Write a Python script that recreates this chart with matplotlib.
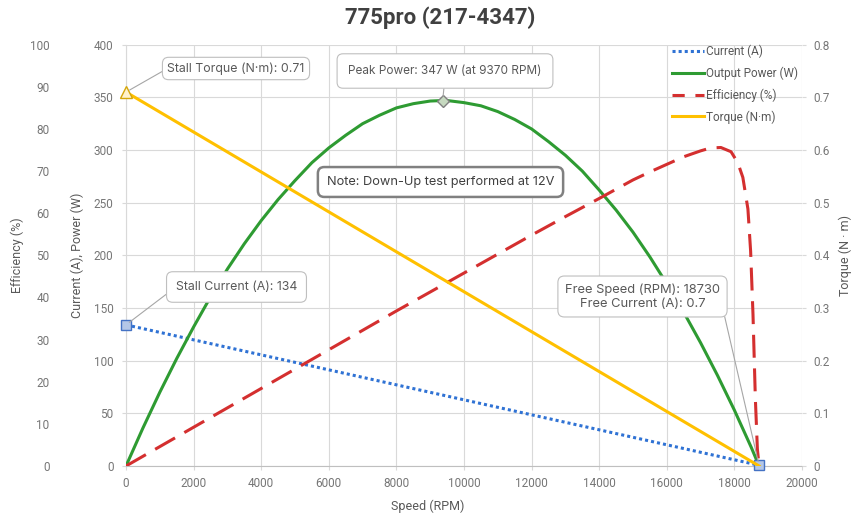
import matplotlib
matplotlib.use("Agg")
import matplotlib.pyplot as plt
from matplotlib.lines import Line2D

# ---------------- data ----------------
current_speed = [0, 18730]
current_amps = [134, 0.7]

torque_speed = [0, 18730]
torque_nm = [0.71, 0.0]

power_speed = [0, 500, 1000, 1500, 2000, 2500, 3000, 3500, 4000, 4500, 5000, 5500,
               6000, 6500, 7000, 7500, 8000, 8500, 9000, 9370, 9500, 10000, 10500,
               11000, 11500, 12000, 12500, 13000, 13500, 14000, 14500, 15000, 15500,
               16000, 16500, 17000, 17500, 18000, 18500, 18730]
power_w = [0, 36, 70, 102, 132, 160.5, 187, 211, 233, 253, 271, 288,
           302, 314, 325, 333, 340, 344, 346.5, 347, 347, 345, 342,
           336.5, 329, 320, 308, 295, 280, 262, 243, 222, 198.5,
           173, 146, 117, 86, 53, 17.6, 0]

eff_speed = [0, 1000, 2000, 3000, 4000, 5000, 6000, 7000, 8000, 9000, 10000,
             11000, 12000, 13000, 14000, 14500, 15000, 15500, 16000, 16500, 17000,
             17300, 17600, 17900, 18100, 18250, 18400, 18480, 18550, 18620, 18680, 18730]
eff_pct = [0, 4.6, 9.2, 13.8, 18.4, 23.0, 27.6, 32.2, 36.8, 41.3, 45.8,
           50.3, 54.8, 59.2, 63.5, 65.7, 67.9, 69.8, 71.6, 73.4, 74.8,
           75.5, 75.6, 74.6, 72.0, 68.5, 61.0, 51.0, 36.0, 16.0, 4.0, 0.0]

x_ticks = [0, 2000, 4000, 6000, 8000, 10000, 12000, 14000, 16000, 18000, 20000]
left_ticks = [0, 50, 100, 150, 200, 250, 300, 350, 400]
eff_ticks = [0, 10, 20, 30, 40, 50, 60, 70, 80, 90, 100]
torque_ticks = [0, 0.1, 0.2, 0.3, 0.4, 0.5, 0.6, 0.7, 0.8]

stall_torque = 0.71
stall_current = 134
peak_power = 347
peak_speed = 9370
free_speed = 18730
free_current = 0.7

title = "775pro (217-4347)"
series_labels = ["Current (A)", "Output Power (W)", "Efficiency (%)", "Torque (N·m)"]

# ---------------- style ----------------
C_BLUE = "#2f72d4"
C_GREEN = "#2e9b32"
C_RED = "#d42f2f"
C_YEL = "#ffc000"
C_TXT = "#595959"
C_TICK = "#767676"
C_GRID = "#d9d9d9"
TICKFONT = "Roboto"
ANNFONT = "Inter"

plt.rcParams["font.family"] = [TICKFONT, "DejaVu Sans"]

W, H = 851, 520
fig = plt.figure(figsize=(W / 100, H / 100), dpi=100)
L, R, T, B = 126, 802, 44.7, 466
ax = fig.add_axes([L / W, 1 - B / H, (R - L) / W, (B - T) / H])
ax_eff = ax.twinx()
ax_t = ax.twinx()

ax.set_xlim(0, 20000)
ax.set_ylim(0, 400)
ax_eff.set_ylim(0, 100)
ax_t.set_ylim(0, 0.8)

ax.set_xticks(x_ticks)
ax.set_yticks(left_ticks)
ax_eff.set_yticks(eff_ticks)
ax_t.set_yticks(torque_ticks)
ax_t.set_yticklabels(["0" if v == 0 else f"{v:.1f}" for v in torque_ticks])

ax.grid(True, color=C_GRID, lw=0.8)
ax.set_axisbelow(True)
for a in (ax, ax_eff, ax_t):
    for s in a.spines.values():
        s.set_visible(False)
ax.spines["bottom"].set_visible(True)
ax.spines["bottom"].set_color("#bfbfbf")
ax.spines["left"].set_visible(True)
ax.spines["left"].set_color(C_GRID)

ax.tick_params(axis="x", length=3, color=C_GRID, pad=5, labelsize=8.5, labelcolor=C_TICK)
ax.tick_params(axis="y", length=3, color=C_GRID, pad=6, labelsize=8.5, labelcolor=C_TICK)
ax_t.tick_params(axis="y", length=3, color=C_GRID, pad=5, labelsize=8.5, labelcolor=C_TICK)

ax_eff.yaxis.set_ticks_position("left")
ax_eff.yaxis.set_label_position("left")
ax_eff.spines["left"].set_position(("outward", 52))
ax_eff.tick_params(axis="y", length=0, pad=3, labelsize=8.5, labelcolor=C_TICK)

# ---------------- series ----------------
lw = 2.2
ax.plot(current_speed, current_amps, color=C_BLUE, lw=lw, ls=(0, (1, 1)),
        dash_capstyle="butt", zorder=3)
ax.plot(power_speed, power_w, color=C_GREEN, lw=lw, zorder=3)
ax_eff.plot(eff_speed, eff_pct, color=C_RED, lw=lw, ls=(0, (7.5, 3.5)),
            dash_capstyle="butt", zorder=3)
ax_t.plot(torque_speed, torque_nm, color=C_YEL, lw=lw, zorder=3)

# markers
ax.plot([0], [stall_current], marker="s", ms=7, mfc="#b4c7e7", mec="#4472c4",
        mew=1, clip_on=False, zorder=5)
ax.plot([free_speed], [free_current], marker="s", ms=7, mfc="#b4c7e7", mec="#4472c4",
        mew=1, clip_on=False, zorder=5)
ax.plot([peak_speed], [peak_power], marker="D", ms=6.5, mfc="#c6d9c0", mec="#808080",
        mew=1, clip_on=False, zorder=5)
ax_t.plot([0], [stall_torque], marker="^", ms=8, mfc="#fff2cc", mec="#d4a60a",
          mew=1, clip_on=False, zorder=5)

# ---------------- annotations ----------------
def box(pad, ec="#bfbfbf", lw_=0.8):
    return dict(boxstyle=f"round,pad={pad},rounding_size=0.5", fc="white", ec=ec, lw=lw_)

def arrow(relpos):
    return dict(arrowstyle="-", color="#a6a6a6", lw=0.8, relpos=relpos,
                shrinkA=0, shrinkB=3)

ax_t.annotate(f"Stall Torque (N·m): {stall_torque}", xy=(0, stall_torque),
              xytext=(236, H - 68.5), textcoords="figure pixels",
              ha="center", va="center", fontsize=8.9, color=C_TXT, family=ANNFONT,
              bbox=box(0.4), arrowprops=arrow((0, 0.5)), zorder=10,
              annotation_clip=False)

ax.annotate(f"Peak Power: {peak_power} W (at {peak_speed} RPM)", xy=(peak_speed, peak_power),
            xytext=(445, H - 71), textcoords="figure pixels",
            ha="center", va="center", fontsize=8.5, color=C_TXT, family=ANNFONT,
            bbox=box(0.95), arrowprops=arrow((0.5, 0)), zorder=10,
            annotation_clip=False)

ax_t.annotate(f"Stall Current (A): {stall_current}", xy=(0, stall_current / 500),
              xytext=(236.5, H - 287), textcoords="figure pixels",
              ha="center", va="center", fontsize=8.9, color=C_TXT, family=ANNFONT,
              bbox=box(0.75), arrowprops=arrow((0, 0.5)), zorder=10,
              annotation_clip=False)

ax_t.annotate(f"Free Speed (RPM): {free_speed}\nFree Current (A): {free_current}",
              xy=(free_speed, free_current / 500),
              xytext=(642.5, H - 296.5), textcoords="figure pixels",
              ha="center", va="center", fontsize=9.3, color=C_TXT, family=ANNFONT,
              linespacing=1.25, bbox=box(0.55), arrowprops=arrow((1, 0.5)), zorder=10,
              annotation_clip=False)

fig.text(440.5 / W, 1 - 182 / H, "Note: Down-Up test performed at 12V",
         ha="center", va="center", fontsize=9.2, color="#404040", family=ANNFONT,
         bbox=dict(boxstyle="round,pad=0.7,rounding_size=0.5", fc="white",
                   ec="#808080", lw=1.8), zorder=20)

# ---------------- titles / labels ----------------
fig.text(440 / W, 1 - 18 / H, title, ha="center", va="center", fontsize=16,
         fontweight="bold", color="#404040")
fig.text(428 / W, 1 - 506 / H, "Speed (RPM)", ha="center", va="center",
         fontsize=9, color=C_TXT)
fig.text(77 / W, 1 - 255 / H, "Current (A), Power (W)", ha="center", va="center",
         rotation=90, fontsize=9, color=C_TXT)
fig.text(17 / W, 1 - 255 / H, "Efficiency (%)", ha="center", va="center",
         rotation=90, fontsize=9, color=C_TXT)
fig.text(845 / W, 1 - 255 / H, "Torque (N · m)", ha="center", va="center",
         rotation=90, fontsize=9, color=C_TXT)

# ---------------- legend ----------------
handles = [
    Line2D([], [], color=C_BLUE, lw=lw, ls=(0, (1, 1)), dash_capstyle="butt"),
    Line2D([], [], color=C_GREEN, lw=lw),
    Line2D([], [], color=C_RED, lw=lw, ls=(0, (4, 3.5)), dash_capstyle="butt"),
    Line2D([], [], color=C_YEL, lw=lw),
]
leg = ax_t.legend(handles, series_labels, loc="upper left",
                  bbox_to_anchor=(672 / W, 1 - 45 / H), bbox_transform=fig.transFigure,
                  frameon=False, fontsize=8.5, handlelength=2.7, handletextpad=0.2,
                  labelspacing=0.7, borderpad=0, borderaxespad=0)
for t in leg.get_texts():
    t.set_color(C_TXT)
leg.set_zorder(15)

fig.savefig("out.png", dpi=100)
